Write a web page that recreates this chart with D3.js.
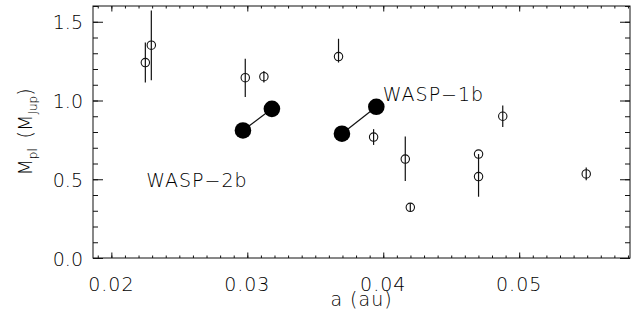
<!DOCTYPE html>
<html>
<head>
<meta charset="utf-8">
<script src="https://cdn.jsdelivr.net/npm/d3@7"></script>
<style>
  body { margin: 0; background: #fff; }
  svg text { font-family: "DejaVu Sans", "Liberation Sans", sans-serif; font-weight: 200; fill: #000; }
  .axis path, .axis line { stroke: #111; stroke-width: 1; }
</style>
</head>
<body>
<div class="chart"></div>
<script>
// known planets: semi-major axis (au), mass (MJup), error up / down
var aKnown = [0.02250, 0.02294, 0.02985, 0.03122, 0.03671, 0.03929, 0.04162, 0.04701, 0.04701, 0.04879, 0.04199, 0.05493];
var mKnown = [1.241, 1.351, 1.145, 1.151, 1.279, 0.768, 0.628, 0.660, 0.517, 0.900, 0.322, 0.534];
var errUp  = [0.127, 0.220, 0.120, 0.037, 0.113, 0.050, 0.144, 0.000, 0.143, 0.068, 0.025, 0.040];
var errDn  = [0.127, 0.222, 0.122, 0.037, 0.038, 0.050, 0.139, 0.000, 0.128, 0.068, 0.025, 0.040];

// the two new planets, two estimates each
var aWasp2 = [0.02968, 0.03181];
var mWasp2 = [0.810, 0.947];
var aWasp1 = [0.03696, 0.03949];
var mWasp1 = [0.789, 0.960];

var xTicks = [0.02, 0.03, 0.04, 0.05];
var xTickLabels = ["0.02", "0.03", "0.04", "0.05"];
var yTicks = [0.0, 0.5, 1.0, 1.5];
var yTickLabels = ["0.0", "0.5", "1.0", "1.5"];

var width = 640;
var height = 324;
var pLeft = 93, pRight = 630, pTop = 6, pBottom = 258;

var svg = d3
  .select(".chart")
  .append("svg")
  .attr("width", width)
  .attr("height", height);

var x = d3.scaleLinear().domain([0.01865, 0.05815]).range([pLeft, pRight]);
var y = d3.scaleLinear().domain([0, 1.6]).range([pBottom, pTop]);

var xMinor = d3.range(19, 59).map(function (d) { return d / 1000; });
var yMinor = d3.range(0, 17).map(function (d) { return d / 10; });

// frame
svg.append("rect")
  .attr("x", pLeft).attr("y", pTop)
  .attr("width", pRight - pLeft).attr("height", pBottom - pTop)
  .attr("fill", "none").attr("stroke", "#111");

function ticksOnly(g) {
  g.attr("class", "axis");
  g.select(".domain").remove();
  g.selectAll("text").remove();
}

// minor ticks, inward
svg.append("g").attr("transform", "translate(0," + pBottom + ")")
  .call(d3.axisBottom(x).tickValues(xMinor).tickSize(-2.5)).call(ticksOnly);
svg.append("g").attr("transform", "translate(0," + pTop + ")")
  .call(d3.axisTop(x).tickValues(xMinor).tickSize(-2.5)).call(ticksOnly);
svg.append("g").attr("transform", "translate(" + pLeft + ",0)")
  .call(d3.axisLeft(y).tickValues(yMinor).tickSize(-5)).call(ticksOnly);
svg.append("g").attr("transform", "translate(" + pRight + ",0)")
  .call(d3.axisRight(y).tickValues(yMinor).tickSize(-5)).call(ticksOnly);

// major ticks, inward
svg.append("g").attr("transform", "translate(0," + pBottom + ")")
  .call(d3.axisBottom(x).tickValues(xTicks).tickSize(-5.5)).call(ticksOnly);
svg.append("g").attr("transform", "translate(0," + pTop + ")")
  .call(d3.axisTop(x).tickValues(xTicks).tickSize(-5.5)).call(ticksOnly);
svg.append("g").attr("transform", "translate(" + pLeft + ",0)")
  .call(d3.axisLeft(y).tickValues(yTicks).tickSize(-10)).call(ticksOnly);
svg.append("g").attr("transform", "translate(" + pRight + ",0)")
  .call(d3.axisRight(y).tickValues(yTicks).tickSize(-10)).call(ticksOnly);

// tick labels
svg.append("g").selectAll("text")
  .data(xTicks).enter().append("text")
  .attr("x", function (d) { return x(d); })
  .attr("y", 291)
  .attr("text-anchor", "middle")
  .attr("font-size", 19)
  .attr("letter-spacing", 1)
  .text(function (d, i) { return xTickLabels[i]; });

svg.append("g").selectAll("text")
  .data(yTicks).enter().append("text")
  .attr("x", 83)
  .attr("y", function (d) { return y(d) + 7.5; })
  .attr("text-anchor", "end")
  .attr("font-size", 19)
  .text(function (d, i) { return yTickLabels[i]; });

// axis titles
svg.append("text")
  .attr("x", (pLeft + pRight) / 2)
  .attr("y", 306)
  .attr("text-anchor", "middle")
  .attr("font-size", 19)
  .attr("letter-spacing", 1)
  .text("a (au)");

var yt = svg.append("text")
  .attr("transform", "translate(32," + ((pTop + pBottom) / 2) + ") rotate(-90)")
  .attr("text-anchor", "middle")
  .attr("font-size", 19);
yt.append("tspan").text("M");
yt.append("tspan").attr("font-size", 12).attr("dy", 5).text("pl");
yt.append("tspan").attr("dy", -5).text("\u2009 (M");
yt.append("tspan").attr("font-size", 12).attr("dy", 5).text("Jup");
yt.append("tspan").attr("dy", -5).text(")");

// error bars
var pts = svg.append("g").attr("class", "known");
pts.selectAll("line")
  .data(aKnown).enter().append("line")
  .attr("x1", function (d) { return x(d); })
  .attr("x2", function (d) { return x(d); })
  .attr("y1", function (d, i) { return y(mKnown[i] + errUp[i]); })
  .attr("y2", function (d, i) { return y(mKnown[i] - errDn[i]); })
  .attr("stroke", "#111")
  .attr("stroke-width", 1.2);

pts.selectAll("circle")
  .data(aKnown).enter().append("circle")
  .attr("cx", function (d) { return x(d); })
  .attr("cy", function (d, i) { return y(mKnown[i]); })
  .attr("r", 4.2)
  .attr("fill", "none")
  .attr("stroke", "#111")
  .attr("stroke-width", 1.1);

// WASP planets
function drawPair(aa, mm) {
  var g = svg.append("g");
  g.append("line")
    .attr("x1", x(aa[0])).attr("y1", y(mm[0]))
    .attr("x2", x(aa[1])).attr("y2", y(mm[1]))
    .attr("stroke", "#111").attr("stroke-width", 1.2);
  g.selectAll("circle")
    .data(aa).enter().append("circle")
    .attr("cx", function (d) { return x(d); })
    .attr("cy", function (d, i) { return y(mm[i]); })
    .attr("r", 8.3)
    .attr("fill", "#000");
}
drawPair(aWasp2, mWasp2);
drawPair(aWasp1, mWasp1);

svg.append("text")
  .attr("x", x(0.03997)).attr("y", y(0.995))
  .attr("font-size", 19).attr("letter-spacing", 1)
  .text("WASP\u22121b");
svg.append("text")
  .attr("x", x(0.02257)).attr("y", y(0.449))
  .attr("font-size", 19).attr("letter-spacing", 1)
  .text("WASP\u22122b");
</script>
</body>
</html>
